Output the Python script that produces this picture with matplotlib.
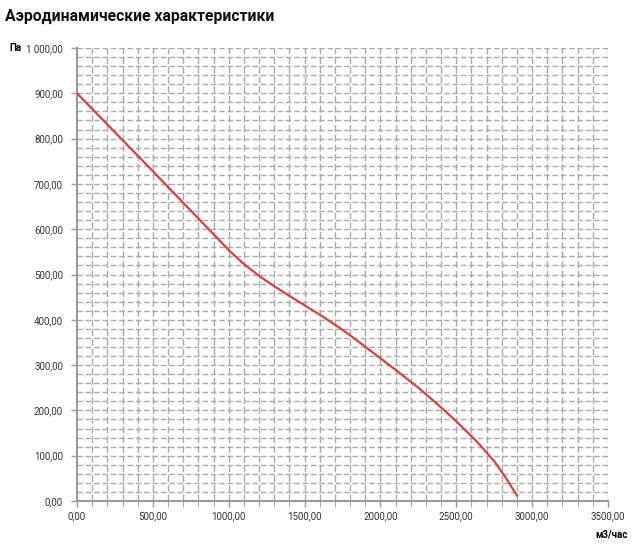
import numpy as np
from matplotlib import pyplot as plt

# flow (m3/h) vs pressure (Pa)
flow = [0, 250, 500, 750, 900, 1000, 1100, 1200, 1300, 1400, 1500, 1625, 1750,
        1875, 2000, 2125, 2250, 2375, 2500, 2625, 2750, 2825, 2900]
pressure = [900, 814, 728, 641, 589, 554, 523, 497, 474, 453, 432, 406, 378,
            347, 315, 283, 250, 214, 176, 135, 88, 52, 12]

x_ticks = [0, 500, 1000, 1500, 2000, 2500, 3000, 3500]
x_labels = ["0,00", "500,00", "1000,00", "1500,00", "2000,00", "2500,00", "3000,00", "3500,00"]
y_ticks = [0, 100, 200, 300, 400, 500, 600, 700, 800, 900, 1000]
y_labels = ["0,00", "100,00", "200,00", "300,00", "400,00", "500,00", "600,00",
            "700,00", "800,00", "900,00", "1 000,00"]

plt.rcParams['font.family'] = ['Roboto', 'DejaVu Sans']

fig = plt.figure(figsize=(6.4, 5.53), dpi=100)
ax = fig.add_axes([77 / 640, 1 - 501 / 553, (608 - 77) / 640, (501 - 48) / 553])

# grid: verticals every 100, horizontals every 20
for gx in np.arange(100, 3501, 100):
    ax.axvline(gx, color="#aaaaaa", lw=1.0, ls=(0, (5, 2)), zorder=1)
for gy in np.arange(20, 1001, 20):
    ax.axhline(gy, color="#aaaaaa", lw=1.0, ls=(0, (4, 2)), zorder=1)

ax.plot(flow, pressure, color="#d9413f", lw=1.6, zorder=3, solid_joinstyle="round")

ax.set_xlim(0, 3500)
ax.set_ylim(0, 1000)
ax.set_xticks(x_ticks)
ax.set_xticklabels(x_labels)
ax.set_xticks(np.arange(0, 3501, 100), minor=True)
ax.set_yticks(y_ticks)
ax.set_yticklabels(y_labels)
ax.tick_params(axis="both", labelsize=7, colors="#9a9a9a", labelcolor="#333333", length=4, width=1)
ax.tick_params(axis="x", which="minor", length=4, colors="#9a9a9a")
ax.tick_params(axis="y", pad=6)

for side in ["top", "right"]:
    ax.spines[side].set_visible(False)
for side in ["left", "bottom"]:
    ax.spines[side].set_color("#9a9a9a")
    ax.spines[side].set_linewidth(1.5)

fig.text(5 / 640, 1 - 16 / 553, "Аэродинамические характеристики", fontsize=11.3,
         fontweight="bold", va="center", ha="left", color="#111111")
fig.text(9 / 640, 1 - 48 / 553, "Па", fontsize=7, fontweight="bold", va="center", ha="left")
fig.text(628 / 640, 1 - 534 / 553, "м3/час", fontsize=7, fontweight="bold", va="center", ha="right")

fig.savefig("out.png", dpi=100)
